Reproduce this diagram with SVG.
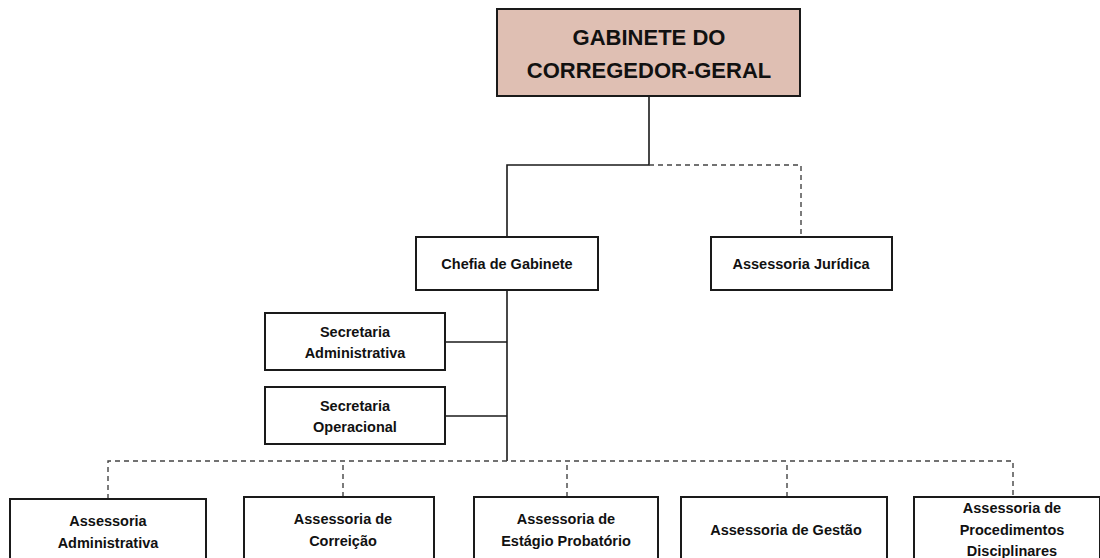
<svg xmlns="http://www.w3.org/2000/svg" width="1100" height="558" viewBox="0 0 1100 558">
<style>
.box{fill:#ffffff;stroke:#1a1a1a;stroke-width:2}
.top{fill:#dfbfb3;stroke:#1a1a1a;stroke-width:2}
.t{font-family:"Liberation Sans",Arial,sans-serif;font-weight:bold;font-size:14.5px;fill:#111;text-anchor:middle}
.tt{font-family:"Liberation Sans",Arial,sans-serif;font-weight:bold;font-size:22px;fill:#111;text-anchor:middle}
.solid{fill:none;stroke:#1a1a1a;stroke-width:1.6}
.dash{fill:none;stroke:#444;stroke-width:1.4;stroke-dasharray:5,4}
</style>
<rect width="1100" height="558" fill="#ffffff"/>
<g id="connectors">
<path class="solid" d="M649 96 V165 H507 V237"/>
<path class="dash" d="M649 165 H801 V237"/>
<path class="solid" d="M507 290 V461"/>
<path class="solid" d="M445 342 H507"/>
<path class="solid" d="M445 416 H507"/>
<path class="dash" d="M108 499 V461 H1013 V497"/>
<path class="dash" d="M343 497 V461"/>
<path class="dash" d="M567 497 V461"/>
<path class="dash" d="M787 497 V461"/>
</g>
<g id="gabinete">
<rect class="top" x="497" y="9" width="303" height="87"/>
<text class="tt" x="649" y="45">GABINETE DO</text>
<text class="tt" x="649" y="78">CORREGEDOR-GERAL</text>
</g>
<g id="chefia">
<rect class="box" x="416" y="237" width="182" height="53"/>
<text class="t" x="507" y="269">Chefia de Gabinete</text>
</g>
<g id="juridica">
<rect class="box" x="711" y="237" width="181" height="53"/>
<text class="t" x="801" y="269">Assessoria Jurídica</text>
</g>
<g id="sec-adm">
<rect class="box" x="265" y="313" width="180" height="57"/>
<text class="t" x="355" y="337">Secretaria</text>
<text class="t" x="355" y="358">Administrativa</text>
</g>
<g id="sec-op">
<rect class="box" x="265" y="387" width="180" height="57"/>
<text class="t" x="355" y="411">Secretaria</text>
<text class="t" x="355" y="432">Operacional</text>
</g>
<g id="ass-adm">
<rect class="box" x="10" y="499" width="196" height="70"/>
<text class="t" x="108" y="526">Assessoria</text>
<text class="t" x="108" y="548">Administrativa</text>
</g>
<g id="ass-cor">
<rect class="box" x="244" y="497" width="190" height="70"/>
<text class="t" x="343" y="524">Assessoria de</text>
<text class="t" x="343" y="546">Correição</text>
</g>
<g id="ass-est">
<rect class="box" x="474" y="497" width="184" height="70"/>
<text class="t" x="566" y="524">Assessoria de</text>
<text class="t" x="566" y="546">Estágio Probatório</text>
</g>
<g id="ass-ges">
<rect class="box" x="681" y="497" width="206" height="70"/>
<text class="t" x="786" y="535">Assessoria de Gestão</text>
</g>
<g id="ass-proc">
<rect class="box" x="914" y="497" width="186" height="70"/>
<text class="t" x="1012" y="513">Assessoria de</text>
<text class="t" x="1012" y="535">Procedimentos</text>
<text class="t" x="1012" y="556">Disciplinares</text>
</g>
</svg>
